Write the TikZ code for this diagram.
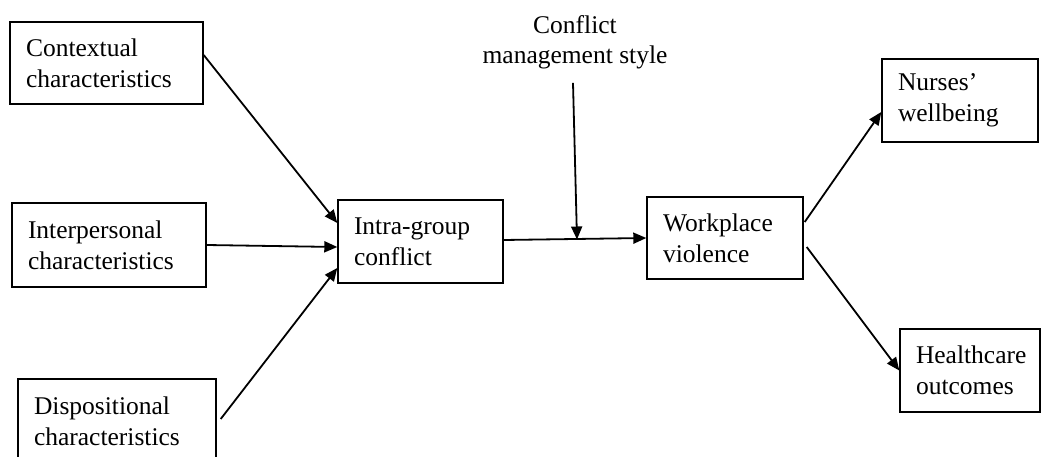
\documentclass[tikz,border=0pt]{standalone}
\usepackage{fontspec}
\setmainfont{Liberation Serif}
\usetikzlibrary{arrows.meta}
\begin{document}
\begin{tikzpicture}[x=1pt,y=-1pt,
  box/.style={draw, line width=1.4pt, inner xsep=16pt, inner ysep=0pt, align=left,
    font=\fontsize{25.5}{31}\selectfont, anchor=center},
  lbl/.style={inner sep=0pt, align=center, font=\fontsize{25.5}{30}\selectfont},
  arr/.style={line width=1.8pt, -{Triangle[length=13pt,width=11pt]}}]
\useasboundingbox (0,0) rectangle (1041,457);
\clip (0,0) rectangle (1041,457);
\node[box, text width=161pt, minimum height=82pt] (ctx) at (106.5,63) {Contextual\\characteristics};
\node[box, text width=162pt, minimum height=84pt] (inter) at (109,245) {Interpersonal\\characteristics};
\node[box, text width=166pt, minimum height=84pt] (disp) at (117,421) {Dispositional\\characteristics};
\node[box, text width=133pt, minimum height=83pt] (intra) at (420.5,241.5) {Intra-group\\conflict};
\node[box, text width=124pt, minimum height=82pt] (work) at (725,238) {Workplace\\violence};
\node[box, text width=124pt, minimum height=83pt] (nurses) at (960,100.5) {Nurses’\\wellbeing};
\node[box, text width=108pt, minimum height=83pt] (health) at (970,370.5) {Healthcare\\outcomes};
\node[lbl] (cms) at (575,42) {Conflict\\management style};
\coordinate (mod) at (577,239.5);
\draw[arr] ([yshift=8pt]ctx.east) -- ([yshift=18.5pt]intra.west);
\draw[arr] (inter.east) -- ([yshift=-5.5pt]intra.west);
\draw[arr] ([xshift=4pt,yshift=2pt]disp.east) -- ([yshift=-26.5pt]intra.west);
\draw[arr] ([yshift=1.5pt]intra.east) -- (work.west);
\draw[arr] ([xshift=-2pt,yshift=-14pt]cms.south) -- (mod);
\draw[arr] ([xshift=1pt,yshift=16pt]work.east) -- ([yshift=-11.5pt]nurses.west);
\draw[arr] ([xshift=3pt,yshift=-9pt]work.east) -- (health.west);
\end{tikzpicture}
\end{document}
